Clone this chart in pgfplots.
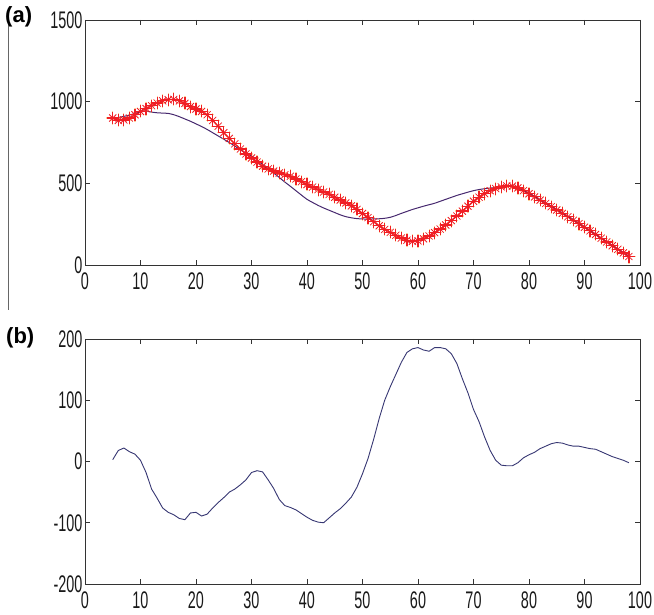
\documentclass[border=0pt]{standalone}
\usepackage{pgfplots}
\pgfplotsset{compat=1.18}
\usepackage{fontspec}
\setmainfont{Liberation Sans}
\newfontfamily\tickfont[FakeStretch=0.6]{Liberation Sans}
\definecolor{trace}{RGB}{240,30,36}
\definecolor{halo}{RGB}{250,170,60}
\definecolor{fitline}{RGB}{70,40,110}
\definecolor{diffline}{RGB}{55,55,115}

% measured series
\pgfplotstableread{
x y
5 900
6 885
7 888
8 900
9 920
10 940
11 958
12 975
13 992
14 1005
15 1012
16 1014
17 1005
18 990
19 970
20 955
21 940
22 920
23 885
24 850
25 810
26 775
27 742
28 710
29 680
30 655
31 630
32 605
33 588
34 575
35 563
36 552
37 543
38 527
39 510
40 493
41 477
42 462
43 447
44 432
45 415
46 398
47 380
48 362
49 340
50 315
51 290
52 265
53 240
54 218
55 200
56 182
57 165
58 152
59 145
60 148
61 160
62 178
63 198
64 220
65 245
66 272
67 300
68 330
69 360
70 390
71 415
72 437
73 455
74 468
75 478
76 484
77 483
78 472
79 455
80 436
81 417
82 397
83 377
84 357
85 337
86 316
87 295
88 274
89 253
90 231
91 209
92 187
93 164
94 141
95 118
96 96
97 74
98 52
}\measured

% fitted curve
\pgfplotstableread{
x y
5 900
6 903
7 910
8 918
9 928
10 938
11 942
12 936
13 932
14 930
15 928
16 920
17 908
18 894
19 880
20 864
21 848
22 830
23 810
24 790
25 770
26 750
27 728
28 705
29 685
30 668
31 645
32 615
33 590
34 563
35 536
36 508
37 482
38 455
39 428
40 402
41 383
42 365
43 349
44 335
45 321
46 307
47 296
48 289
49 284
50 282
51 281
52 282
53 283
54 286
55 292
56 303
57 316
58 328
59 340
60 350
61 360
62 369
63 378
64 390
65 402
66 414
67 426
68 436
69 446
70 455
71 462
72 467
73 471
74 474
75 477
76 482
77 485
78 475
79 458
80 440
81 421
82 401
83 381
84 361
85 341
86 320
87 299
88 278
89 256
90 234
91 211
92 189
93 166
94 143
95 120
96 98
97 76
98 54
}\fitted

% difference between the two
\pgfplotstableread{
x y
5 3
6 18
7 22
8 16
9 12
10 2
11 -18
12 -45
13 -60
14 -76
15 -83
16 -87
17 -93
18 -95
19 -84
20 -83
21 -89
22 -86
23 -76
24 -67
25 -59
26 -50
27 -45
28 -38
29 -30
30 -18
31 -15
32 -17
33 -30
34 -44
35 -62
36 -72
37 -75
38 -79
39 -85
40 -91
41 -96
42 -99
43 -100
44 -92
45 -84
46 -77
47 -68
48 -58
49 -42
50 -20
51 5
52 36
53 70
54 100
55 122
56 142
57 162
58 178
59 184
60 186
61 182
62 180
63 186
64 186
65 184
66 176
67 160
68 135
69 112
70 85
71 65
72 40
73 18
74 2
75 -6
76 -7
77 -7
78 -2
79 6
80 11
81 15
82 21
83 25
84 29
85 31
86 30
87 27
88 25
89 25
90 23
91 21
92 20
93 16
94 12
95 8
96 5
97 2
98 -2
}\difference

\pgfplotsset{
  panel/.style={
    scale only axis, width=555pt, height=245pt,
    xmin=0, xmax=100,
    xtick={0,10,...,100},
    xticklabels={0,10,20,30,40,50,60,70,80,90,100},
    tick align=inside, major tick length=5pt,
    axis line style={black!80, line width=0.9pt},
    tick style={black!80, line width=0.9pt},
    ticklabel style={font=\tickfont\fontsize{24}{24}\selectfont, text=black!90},
    xticklabel style={yshift=-4pt},
    yticklabel style={xshift=1pt},
    clip=true,
  }
}

\begin{document}
\begin{tikzpicture}
\path[use as bounding box] (0pt,0pt) rectangle (654pt,614pt);
\draw[black!60, line width=0.7pt] (8pt,600pt) -- (8pt,304pt);

\begin{axis}[panel, at={(85pt,594pt)}, anchor=north west,
  ymin=0, ymax=1500, ytick={0,500,1000,1500},
  yticklabels={0,500,1000,1500}]
  \addplot[halo, opacity=0.5, line width=1.2pt, mark=+, mark size=7pt,
    mark options={solid}] table {\measured};
  \addplot[trace, line width=1.2pt, mark=+, mark size=6pt,
    mark options={solid}] table {\measured};
  \addplot[trace, only marks, mark=x, mark size=5pt,
    mark options={solid, line width=0.8pt}] table {\measured};
  \addplot[fitline, line width=1pt, smooth, no markers] table {\fitted};
\end{axis}
\node[font=\bfseries\fontsize{22}{22}\selectfont, anchor=west, inner sep=0pt]
  at (5pt,597pt) {(a)};

\begin{axis}[panel, at={(85pt,275pt)}, anchor=north west,
  ymin=-200, ymax=200, ytick={-200,-100,0,100,200},
  yticklabels={-200,-100,0,100,200}]
  \addplot[diffline, line width=0.9pt, no markers] table {\difference};
\end{axis}
\node[font=\bfseries\fontsize{22}{22}\selectfont, anchor=west, inner sep=0pt]
  at (6pt,276pt) {(b)};
\end{tikzpicture}
\end{document}
